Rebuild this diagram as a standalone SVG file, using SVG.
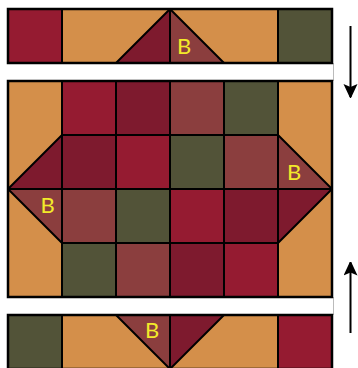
<svg xmlns="http://www.w3.org/2000/svg" width="358" height="368" viewBox="0 0 358 368">
<defs>
<style>
.r{fill:#951B31}.d{fill:#7E1A2E}.b{fill:#8B3E3E}.o{fill:#525338}.g{fill:#D48F4A}
.ln{stroke:#000;stroke-width:2;fill:none;stroke-linejoin:round}
.bd{stroke:#000;stroke-width:2.5;fill:none}
.lbl{font-family:Lato,"Open Sans","Liberation Sans",sans-serif;font-size:22px;fill:#F2EA2A;text-anchor:middle}
.ar{stroke:#000;stroke-width:2;fill:none}
</style>
<marker id="ah" viewBox="0 0 14 16" refX="13" refY="7" markerWidth="14" markerHeight="16" markerUnits="userSpaceOnUse" orient="auto">
<path d="M0,0 L15,7 L0,14 L3,7 Z" fill="#000"/>
</marker>
</defs>
<rect width="358" height="368" fill="#fff"/>
<g id="gap-lines" stroke="#bbb" stroke-width="1">
<line x1="333.5" y1="63" x2="333.5" y2="81"/>
<line x1="333.5" y1="297" x2="333.5" y2="315"/>
</g>
<g id="top-strip">
<rect class="r" x="8" y="9" width="54" height="54"/>
<rect class="g" x="62" y="9" width="216" height="54"/>
<polygon class="d" points="116,63 170,9 170,63"/>
<polygon class="b" points="170,9 170,63 224,63"/>
<rect class="o" x="278" y="9" width="54" height="54"/>
<path class="ln" d="M62,9V63M170,9V63M278,9V63M116,63L170,9L224,63"/>
<rect class="bd" x="8" y="9" width="324" height="54"/>
<text class="lbl" x="184" y="54">B</text>
</g>
<g id="center-block">
<rect class="g" x="8" y="81" width="324" height="216"/>
<rect class="r" x="62" y="81" width="54" height="54"/>
<rect class="d" x="116" y="81" width="54" height="54"/>
<rect class="b" x="170" y="81" width="54" height="54"/>
<rect class="o" x="224" y="81" width="54" height="54"/>
<polygon class="d" points="8,189 62,135 62,189"/>
<rect class="d" x="62" y="135" width="54" height="54"/>
<rect class="r" x="116" y="135" width="54" height="54"/>
<rect class="o" x="170" y="135" width="54" height="54"/>
<rect class="b" x="224" y="135" width="54" height="54"/>
<polygon class="b" points="278,135 278,189 332,189"/>
<polygon class="b" points="8,189 62,189 62,243"/>
<rect class="b" x="62" y="189" width="54" height="54"/>
<rect class="o" x="116" y="189" width="54" height="54"/>
<rect class="r" x="170" y="189" width="54" height="54"/>
<rect class="d" x="224" y="189" width="54" height="54"/>
<polygon class="d" points="278,189 332,189 278,243"/>
<rect class="o" x="62" y="243" width="54" height="54"/>
<rect class="b" x="116" y="243" width="54" height="54"/>
<rect class="d" x="170" y="243" width="54" height="54"/>
<rect class="r" x="224" y="243" width="54" height="54"/>
<path class="ln" d="M62,81V297M116,81V297M170,81V297M224,81V297M278,81V297M62,135H278M8,189H332M62,243H278M62,135L8,189L62,243M278,135L332,189L278,243"/>
<rect class="bd" x="8" y="81" width="324" height="216"/>
<text class="lbl" x="294" y="180">B</text>
<text class="lbl" x="47.5" y="212.5">B</text>
</g>
<g id="bottom-strip">
<rect class="o" x="8" y="315" width="54" height="54"/>
<rect class="g" x="62" y="315" width="216" height="54"/>
<polygon class="b" points="116,315 170,315 170,369"/>
<polygon class="d" points="170,315 224,315 170,369"/>
<rect class="r" x="278" y="315" width="54" height="54"/>
<path class="ln" d="M62,315V369M170,315V369M278,315V369M116,315L170,369L224,315"/>
<rect class="bd" x="8" y="315" width="324" height="54"/>
<text class="lbl" x="152" y="337.5">B</text>
</g>
<g id="connectors">
<line class="ar" x1="350.5" y1="26" x2="350.5" y2="97" marker-end="url(#ah)"/>
<line class="ar" x1="350.5" y1="333" x2="350.5" y2="262.5" marker-end="url(#ah)"/>
</g>
</svg>
